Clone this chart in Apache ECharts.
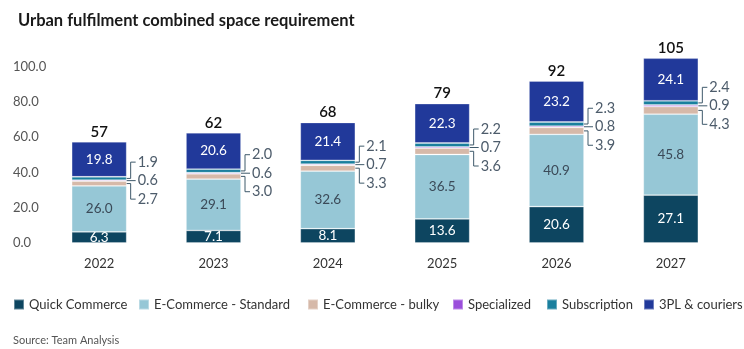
<!DOCTYPE html>
<html>
<head>
<meta charset="utf-8">
<script src="https://cdn.jsdelivr.net/npm/echarts@6/dist/echarts.min.js"></script>
<style>
  html, body { margin: 0; padding: 0; background: #fff; }
  #chart { width: 744px; height: 349px; }
</style>
</head>
<body>
<div id="chart"></div>
<script>
// Urban fulfilment space requirement by segment, 2022-2027
const years = ['2022', '2023', '2024', '2025', '2026', '2027'];
const quickCommerce = [6.3, 7.1, 8.1, 13.6, 20.6, 27.1];
const ecomStandard = [26.0, 29.1, 32.6, 36.5, 40.9, 45.8];
const ecomBulky = [2.7, 3.0, 3.3, 3.6, 3.9, 4.3];
const specialized = [0.6, 0.6, 0.7, 0.7, 0.8, 0.9];
const subscription = [1.9, 2.0, 2.1, 2.2, 2.3, 2.4];
const couriers = [19.8, 20.6, 21.4, 22.3, 23.2, 24.1];
const totals = [57, 62, 68, 79, 92, 105];
const yTicks = [0, 20, 40, 60, 80, 100];

const FONT = 'Lato';
const BAR_W = 55;

const segments = [
  { name: 'Quick Commerce', data: quickCommerce, color: '#0d4560', label: '#ffffff', legendX: 13 },
  { name: 'E-Commerce - Standard', data: ecomStandard, color: '#96c7d6', label: '#3b4a58', legendX: 138 },
  { name: 'E-Commerce - bulky', data: ecomBulky, color: '#d6b9a9', label: null, legendX: 307 },
  { name: 'Specialized', data: specialized, color: '#9b4fdb', label: null, legendX: 452 },
  { name: 'Subscription', data: subscription, color: '#1a7f9e', label: null, legendX: 546 },
  { name: '3PL & couriers', data: couriers, color: '#21399a', label: '#ffffff', legendX: 643 }
];

const barSeries = segments.map(s => ({
  name: s.name,
  type: 'bar',
  stack: 'space',
  barWidth: BAR_W,
  data: s.data,
  itemStyle: { color: s.color, borderColor: 'rgba(255,255,255,0.35)', borderWidth: 0.8 },
  label: s.label ? {
    show: true,
    position: 'inside',
    color: s.label,
    fontFamily: FONT,
    fontSize: 13.5,
    formatter: p => p.value.toFixed(1)
  } : { show: false },
  emphasis: { disabled: true }
}));

// Callouts for the thin segments plus the total above each stack
const calloutSeries = {
  type: 'custom',
  name: 'callouts',
  data: years.map((y, i) => [i, 0]),
  silent: true,
  z: 10,
  renderItem: function (params, api) {
    const i = params.dataIndex;
    const base = quickCommerce[i] + ecomStandard[i];
    const bulkyMid = base + ecomBulky[i] / 2;
    const specMid = base + ecomBulky[i] + specialized[i] / 2;
    const subMid = base + ecomBulky[i] + specialized[i] + subscription[i] / 2;
    const top = base + ecomBulky[i] + specialized[i] + subscription[i] + couriers[i];

    const cx = api.coord([i, 0])[0];
    const xr = cx + BAR_W / 2;
    const xv = xr + 4;
    const xt = xr + 9;
    const xl = xr + 11;
    const yMid = api.coord([i, specMid])[1];
    const yTop = yMid - 18.5;
    const yBot = yMid + 18.5;
    const ySub = api.coord([i, subMid])[1];
    const yBulky = api.coord([i, bulkyMid])[1];
    const yTotal = api.coord([i, top])[1];

    const lineStyle = { stroke: '#3f5a6b', lineWidth: 1, fill: null };
    const txt = (x, y, v) => ({
      type: 'text',
      style: {
        x: x, y: y, text: v.toFixed(1),
        fill: '#4d5c6b', font: '14.5px ' + FONT,
        align: 'left', verticalAlign: 'middle'
      }
    });
    return {
      type: 'group',
      children: [
        { type: 'polyline', shape: { points: [[xr, ySub], [xv, ySub], [xv, yTop], [xt, yTop]] }, style: lineStyle },
        { type: 'polyline', shape: { points: [[xr, yMid], [xt, yMid]] }, style: lineStyle },
        { type: 'polyline', shape: { points: [[xr, yBulky], [xv, yBulky], [xv, yBot], [xt, yBot]] }, style: lineStyle },
        txt(xl, yTop, subscription[i]),
        txt(xl, yMid, specialized[i]),
        txt(xl, yBot, ecomBulky[i]),
        {
          type: 'text',
          style: {
            x: cx, y: yTotal - 10, text: String(totals[i]),
            fill: '#111111', font: '600 15px ' + FONT,
            align: 'center', verticalAlign: 'middle'
          }
        }
      ]
    };
  }
};

// One legend block per segment so each entry sits at its own column
const legends = segments.map(s => ({
  data: [s.name],
  left: s.legendX,
  top: 298,
  icon: 'rect',
  itemWidth: 10,
  itemHeight: 10,
  padding: 0,
  selectedMode: false,
  textStyle: { fontFamily: FONT, fontSize: 13, color: '#333333' }
}));

const chart = echarts.init(document.getElementById('chart'), null, { renderer: 'canvas' });
chart.setOption({
  animation: false,
  backgroundColor: '#ffffff',
  title: {
    text: 'Urban fulfilment combined space requirement',
    left: 13,
    top: 7,
    textStyle: { fontFamily: FONT, fontSize: 16.5, fontWeight: 'bold', color: '#1a1a1a' }
  },
  grid: { left: 42, right: 16, top: 31, bottom: 106, containLabel: false },
  xAxis: {
    type: 'category',
    data: years,
    axisLine: { show: false },
    axisTick: { show: false },
    axisLabel: { color: '#333333', fontFamily: FONT, fontSize: 13, margin: 14 }
  },
  yAxis: {
    type: 'value',
    min: 0,
    max: 120,
    interval: 20,
    splitLine: { show: false },
    axisLine: { show: false },
    axisTick: { show: false },
    axisLabel: {
      color: '#555555',
      fontFamily: FONT,
      fontSize: 13,
      align: 'left',
      margin: 29,
      formatter: v => (yTicks.indexOf(v) >= 0 ? v.toFixed(1) : '')
    }
  },
  legend: legends,
  graphic: [{
    type: 'text',
    left: 13,
    top: 335,
    style: { text: 'Source: Team Analysis', fill: '#555555', font: '11px ' + FONT }
  }],
  series: barSeries.concat([calloutSeries])
});
</script>
</body>
</html>
